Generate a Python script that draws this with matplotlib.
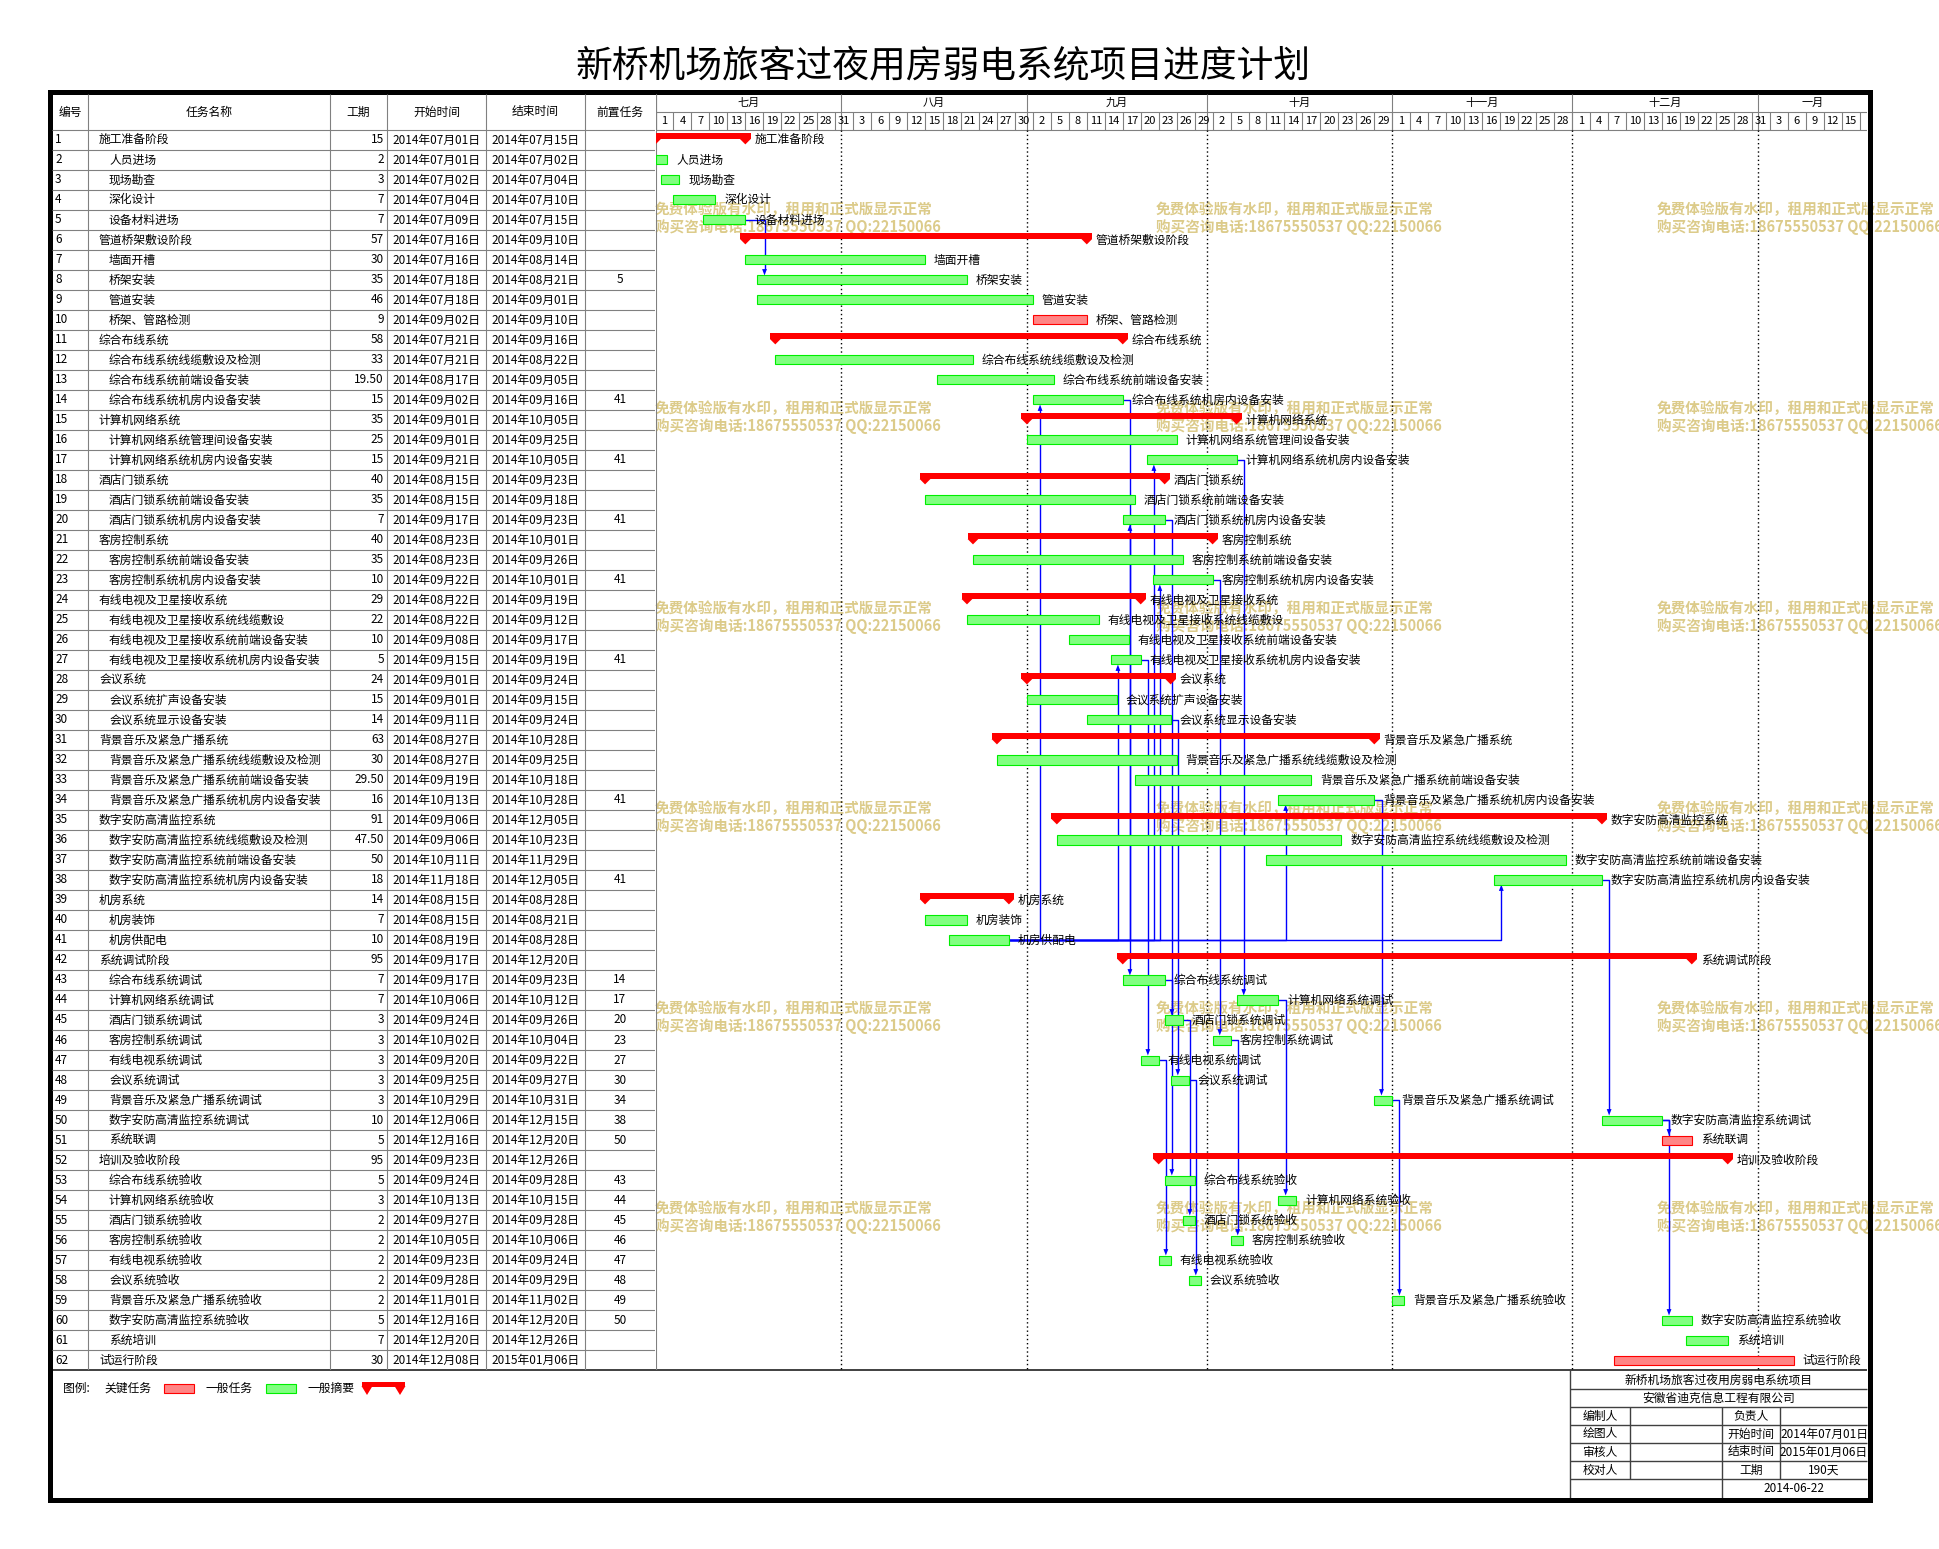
import numpy as np
import pandas as pd
import matplotlib
matplotlib.use('Agg')
import matplotlib.pyplot as plt
from matplotlib.patches import Rectangle, Polygon

plt.rcParams['font.family'] = ['Noto Sans CJK SC', 'DejaVu Sans']

# ---- data ----
title = '新桥机场旅客过夜用房弱电系统项目进度计划'
task_names = ['施工准备阶段', '人员进场', '现场勘查', '深化设计', '设备材料进场',
              '管道桥架敷设阶段', '墙面开槽', '桥架安装', '管道安装', '桥架、管路检测',
              '综合布线系统', '综合布线系统线缆敷设及检测', '综合布线系统前端设备安装',
              '综合布线系统机房内设备安装', '计算机网络系统', '计算机网络系统管理间设备安装',
              '计算机网络系统机房内设备安装', '酒店门锁系统', '酒店门锁系统前端设备安装',
              '酒店门锁系统机房内设备安装', '客房控制系统', '客房控制系统前端设备安装',
              '客房控制系统机房内设备安装', '有线电视及卫星接收系统', '有线电视及卫星接收系统线缆敷设',
              '有线电视及卫星接收系统前端设备安装', '有线电视及卫星接收系统机房内设备安装',
              '会议系统', '会议系统扩声设备安装', '会议系统显示设备安装', '背景音乐及紧急广播系统',
              '背景音乐及紧急广播系统线缆敷设及检测', '背景音乐及紧急广播系统前端设备安装',
              '背景音乐及紧急广播系统机房内设备安装', '数字安防高清监控系统',
              '数字安防高清监控系统线缆敷设及检测', '数字安防高清监控系统前端设备安装',
              '数字安防高清监控系统机房内设备安装', '机房系统', '机房装饰', '机房供配电',
              '系统调试阶段', '综合布线系统调试', '计算机网络系统调试', '酒店门锁系统调试',
              '客房控制系统调试', '有线电视系统调试', '会议系统调试', '背景音乐及紧急广播系统调试',
              '数字安防高清监控系统调试', '系统联调', '培训及验收阶段', '综合布线系统验收',
              '计算机网络系统验收', '酒店门锁系统验收', '客房控制系统验收', '有线电视系统验收',
              '会议系统验收', '背景音乐及紧急广播系统验收', '数字安防高清监控系统验收',
              '系统培训', '试运行阶段']
durations = [15, 2, 3, 7, 7, 57, 30, 35, 46, 9, 58, 33, 19.5, 15, 35, 25, 15, 40, 35, 7,
             40, 35, 10, 29, 22, 10, 5, 24, 15, 14, 63, 30, 29.5, 16, 91, 47.5, 50, 18,
             14, 7, 10, 95, 7, 7, 3, 3, 3, 3, 3, 10, 5, 95, 5, 3, 2, 2, 2, 2, 2, 5, 7, 30]
starts = ['2014-07-01', '2014-07-01', '2014-07-02', '2014-07-04', '2014-07-09',
          '2014-07-16', '2014-07-16', '2014-07-18', '2014-07-18', '2014-09-02',
          '2014-07-21', '2014-07-21', '2014-08-17', '2014-09-02', '2014-09-01',
          '2014-09-01', '2014-09-21', '2014-08-15', '2014-08-15', '2014-09-17',
          '2014-08-23', '2014-08-23', '2014-09-22', '2014-08-22', '2014-08-22',
          '2014-09-08', '2014-09-15', '2014-09-01', '2014-09-01', '2014-09-11',
          '2014-08-27', '2014-08-27', '2014-09-19', '2014-10-13', '2014-09-06',
          '2014-09-06', '2014-10-11', '2014-11-18', '2014-08-15', '2014-08-15',
          '2014-08-19', '2014-09-17', '2014-09-17', '2014-10-06', '2014-09-24',
          '2014-10-02', '2014-09-20', '2014-09-25', '2014-10-29', '2014-12-06',
          '2014-12-16', '2014-09-23', '2014-09-24', '2014-10-13', '2014-09-27',
          '2014-10-05', '2014-09-23', '2014-09-28', '2014-11-01', '2014-12-16',
          '2014-12-20', '2014-12-08']
ends = ['2014-07-15', '2014-07-02', '2014-07-04', '2014-07-10', '2014-07-15',
        '2014-09-10', '2014-08-14', '2014-08-21', '2014-09-01', '2014-09-10',
        '2014-09-16', '2014-08-22', '2014-09-05', '2014-09-16', '2014-10-05',
        '2014-09-25', '2014-10-05', '2014-09-23', '2014-09-18', '2014-09-23',
        '2014-10-01', '2014-09-26', '2014-10-01', '2014-09-19', '2014-09-12',
        '2014-09-17', '2014-09-19', '2014-09-24', '2014-09-15', '2014-09-24',
        '2014-10-28', '2014-09-25', '2014-10-18', '2014-10-28', '2014-12-05',
        '2014-10-23', '2014-11-29', '2014-12-05', '2014-08-28', '2014-08-21',
        '2014-08-28', '2014-12-20', '2014-09-23', '2014-10-12', '2014-09-26',
        '2014-10-04', '2014-09-22', '2014-09-27', '2014-10-31', '2014-12-15',
        '2014-12-20', '2014-12-26', '2014-09-28', '2014-10-15', '2014-09-28',
        '2014-10-06', '2014-09-24', '2014-09-29', '2014-11-02', '2014-12-20',
        '2014-12-26', '2015-01-06']
preds = [0, 0, 0, 0, 0, 0, 0, 5, 0, 0, 0, 0, 0, 41, 0, 0, 41, 0, 0, 41,
         0, 0, 41, 0, 0, 0, 41, 0, 0, 0, 0, 0, 0, 41, 0, 0, 0, 41, 0, 0,
         0, 0, 14, 17, 20, 23, 27, 30, 34, 38, 50, 0, 43, 44, 45, 46, 47, 48, 49, 50,
         0, 0]
summary_rows = [1, 6, 11, 15, 18, 21, 24, 28, 31, 35, 39, 42, 52]
critical_rows = [10, 51, 62]
top_level_rows = summary_rows + [62]

month_names = ['七月', '八月', '九月', '十月', '十一月', '十二月', '一月']
month_firsts = ['2014-07-01', '2014-08-01', '2014-09-01', '2014-10-01',
                '2014-11-01', '2014-12-01', '2015-01-01']

col_titles = ['编号', '任务名称', '工期', '开始时间', '结束时间', '前置任务']
legend_labels = ['关键任务', '一般任务', '一般摘要']
info_title = '新桥机场旅客过夜用房弱电系统项目'
info_company = '安徽省迪克信息工程有限公司'
info_rows = [('编制人', '负责人', ''), ('绘图人', '开始时间', '2014年07月01日'),
             ('审核人', '结束时间', '2015年01月06日'), ('校对人', '工期', '190天')]
info_date = '2014-06-22'
wm_line1 = '免费体验版有水印，租用和正式版显示正常'
wm_line2 = '购买咨询电话:18675550537 QQ:22150066'

origin = pd.Timestamp('2014-07-01')
n = len(task_names)
ids = np.arange(1, n + 1)
start_d = pd.to_datetime(starts)
end_d = pd.to_datetime(ends)
x0 = np.array((start_d - origin).days, dtype=float)
dur = np.array(durations, dtype=float)
day_end = 202.25

def fmt(d):
    return f'{d.year}年{d.month:02d}月{d.day:02d}日'

# ---- figure ----
W, H = 1939, 1549
fig = plt.figure(figsize=(W / 100, H / 100), dpi=100)

def rect(xa, ya, xb, yb):
    return [xa / W, 1 - yb / H, (xb - xa) / W, (yb - ya) / H]

page = fig.add_axes([0, 0, 1, 1])
page.set_xlim(0, W)
page.set_ylim(H, 0)
page.axis('off')

gray = '#808080'
wm_color = '#dccb8a'

# watermark
for yy in [209, 408, 608, 808, 1008, 1208]:
    for xx in [655, 1156, 1657]:
        page.text(xx, yy, wm_line1, fontsize=10.5, color=wm_color, fontweight='bold',
                  va='center', ha='left', zorder=1)
        page.text(xx, yy + 18, wm_line2, fontsize=10.5, color=wm_color, fontweight='bold',
                  va='center', ha='left', zorder=1)

page.text(943, 66, title, fontsize=26.5, ha='center', va='center')

# table
col_edges = [52, 88, 330, 387, 486, 585, 655.5]
top_row = -1.3
tab = fig.add_axes(rect(52, 94, 655.5, 1370))
tab.set_xlim(52, 655.5)
tab.set_ylim(62.5, top_row)
tab.axis('off')
tab.hlines(np.arange(0.5, n, 1), 52, 655.5, color=gray, lw=0.8)
tab.vlines(col_edges[1:-1], top_row, 62.5, color=gray, lw=0.8)
for j, t in enumerate(col_titles):
    tab.text((col_edges[j] + col_edges[j + 1]) / 2, -0.4, t, ha='center', va='center', fontsize=8.5)
for i in range(n):
    r = ids[i]
    tab.text(55, r, str(r), ha='left', va='center', fontsize=8.5)
    tab.text(99 if r in top_level_rows else 109, r, task_names[i], ha='left', va='center', fontsize=8.5)
    d = durations[i]
    tab.text(384, r, f'{d:.2f}' if d % 1 else str(int(d)), ha='right', va='center', fontsize=8.5)
    tab.text(436.5, r, fmt(start_d[i]), ha='center', va='center', fontsize=8.5)
    tab.text(535.5, r, fmt(end_d[i]), ha='center', va='center', fontsize=8.5)
    if preds[i]:
        tab.text(620, r, str(preds[i]), ha='center', va='center', fontsize=8.5)

# gantt
gx = fig.add_axes(rect(655.5, 94, 1867, 1370))
gx.set_xlim(0, day_end)
gx.set_ylim(62.5, top_row)
gx.axis('off')

month_idx = [(pd.Timestamp(m) - origin).days for m in month_firsts]
bounds = month_idx + [day_end]
gx.hlines([-0.4, 0.5], 0, day_end, color=gray, lw=0.8)
gx.vlines(month_idx, top_row, 0.5, color=gray, lw=0.8)
gx.vlines(0, top_row, 62.5, color=gray, lw=0.8)
cells = np.arange(0, 202, 3)
gx.vlines(cells, -0.4, 0.5, color=gray, lw=0.8)
for j, m in enumerate(month_names):
    gx.text((bounds[j] + bounds[j + 1]) / 2, -0.85, m, ha='center', va='center', fontsize=8)
for c in cells[:-1]:
    gx.text(c + 1.5, 0.05, str((origin + pd.Timedelta(days=int(c))).day),
            ha='center', va='center', fontsize=8)
gx.vlines(month_idx[1:], 0.5, 62.5, color='black', lw=1, linestyles=(0, (1, 2)))

blue = '#0000ff'
for i in range(n):
    r = ids[i]
    s, w = x0[i], dur[i]
    if r in summary_rows:
        gx.add_patch(Rectangle((s - 0.9, r - 0.33), w + 1.8, 0.3, color='#ff0000', lw=0, zorder=3))
        for e in (s, s + w):
            gx.add_patch(Polygon([(e - 0.9, r - 0.05), (e + 0.9, r - 0.05), (e, r + 0.22)],
                                 color='#ff0000', lw=0, zorder=3))
    elif r in critical_rows:
        gx.add_patch(Rectangle((s, r - 0.225), w, 0.45, fc='#ff8585', ec='#ff0000', lw=0.8, zorder=3))
    else:
        gx.add_patch(Rectangle((s, r - 0.225), w, 0.45, fc='#80ff80', ec='#00ee00', lw=0.8, zorder=3))
    gx.text(s + w + 1.5, r, task_names[i], ha='left', va='center', fontsize=8.5, zorder=4, clip_on=False)

for i in range(n):
    p = preds[i]
    if not p:
        continue
    r = ids[i]
    pe = x0[p - 1] + dur[p - 1]
    vx = x0[i] + 1.2
    tip = r - 0.225 if r > p else r + 0.225
    sgn = 1 if r > p else -1
    gx.plot([pe, vx, vx], [p, p, tip - sgn * 0.3], color=blue, lw=1, zorder=2)
    gx.add_patch(Polygon([(vx - 0.4, tip - sgn * 0.32), (vx + 0.4, tip - sgn * 0.32), (vx, tip)],
                         color=blue, lw=0, zorder=2))

# bottom line of body
page.hlines(1370, 52, 1867, color='#404040', lw=1.4)

# legend
ly = 1388
page.text(63, ly, '图例:', ha='left', va='center', fontsize=8.5)
page.text(104, ly, legend_labels[0], ha='left', va='center', fontsize=8.5)
page.add_patch(Rectangle((164, 1384), 30, 9, fc='#ff8585', ec='#ff0000', lw=0.8))
page.text(206, ly, legend_labels[1], ha='left', va='center', fontsize=8.5)
page.add_patch(Rectangle((266, 1384), 30, 9, fc='#80ff80', ec='#00ee00', lw=0.8))
page.text(308, ly, legend_labels[2], ha='left', va='center', fontsize=8.5)
page.add_patch(Rectangle((362, 1382), 43, 5, color='#ff0000', lw=0))
for cx in (367, 400):
    page.add_patch(Polygon([(cx - 5.5, 1386), (cx + 5.5, 1386), (cx, 1395)], color='#ff0000', lw=0))

# info box
bx0, bx1 = 1570, 1867
row_lines = [1370, 1389, 1407, 1425, 1443, 1461, 1479, 1500]
lc = '#404040'
page.vlines(bx0, 1370, 1500, color=lc, lw=1)
page.hlines(row_lines[1:-1], bx0, bx1, color=lc, lw=1)
page.vlines([1630, 1780], 1407, 1479, color=lc, lw=1)
page.vlines(1722, 1407, 1500, color=lc, lw=1)
page.text((bx0 + bx1) / 2, 1380, info_title, ha='center', va='center', fontsize=8.5)
page.text((bx0 + bx1) / 2, 1398, info_company, ha='center', va='center', fontsize=8.5)
for k, (a, b, c) in enumerate(info_rows):
    yc = (row_lines[k + 2] + row_lines[k + 3]) / 2
    page.text(1600, yc, a, ha='center', va='center', fontsize=8.5)
    page.text(1751, yc, b, ha='center', va='center', fontsize=8.5)
    page.text(1824, yc, c, ha='center', va='center', fontsize=8.5)
page.text(1794, 1489, info_date, ha='center', va='center', fontsize=8.5)

# outer border
page.add_patch(Rectangle((49.5, 92), 1820, 1408, fill=False, ec='black', lw=3.6, zorder=5))

fig.savefig('out.png', dpi=100)
